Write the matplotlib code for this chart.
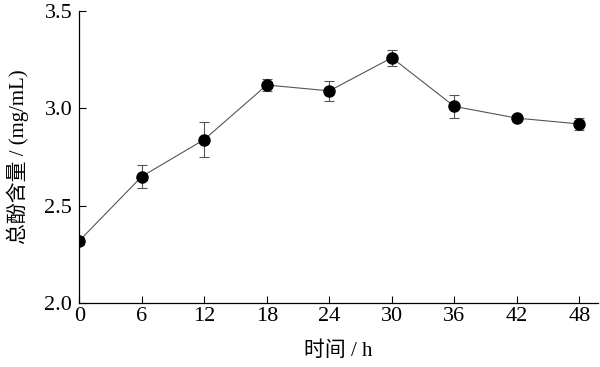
import matplotlib
matplotlib.use("Agg")
import matplotlib.pyplot as plt

# sampling time (h) and total phenol content (mg/mL)
hours = [0, 6, 12, 18, 24, 30, 36, 42, 48]
phenol = [2.32, 2.65, 2.84, 3.12, 3.09, 3.26, 3.01, 2.95, 2.92]
phenol_err = [0.02, 0.06, 0.09, 0.03, 0.05, 0.04, 0.06, 0.01, 0.03]

fonts = ['Liberation Serif', 'Noto Sans CJK SC']
plt.rcParams['font.family'] = fonts

fig = plt.figure(figsize=(6, 3.67), dpi=100)
ax = fig.add_axes([0.132, 0.174, 0.865, 0.796])

ax.errorbar(hours, phenol, yerr=phenol_err, color='#555555', linewidth=0.8,
            marker='o', markersize=8, markerfacecolor='black', markeredgecolor='black',
            ecolor='#555555', elinewidth=0.8, capsize=3.5, capthick=0.8)

ax.set_xlim(0, 49.8)
ax.set_ylim(2.0, 3.5)
ax.set_xticks(hours)
ax.set_yticks([2.0, 2.5, 3.0, 3.5])
ax.set_yticklabels(['2.0', '2.5', '3.0', '3.5'])
ax.tick_params(direction='in', length=5, width=0.8, labelsize=16)
ax.tick_params(axis='x', pad=3)
ax.tick_params(axis='y', pad=5)
ax.spines['top'].set_visible(False)
ax.spines['right'].set_visible(False)
for s in ['left', 'bottom']:
    ax.spines[s].set_linewidth(0.9)

ax.set_xlabel('时间 / h', fontsize=15, labelpad=11)
ax.set_ylabel('总酚含量 / (mg/mL)', fontsize=15, labelpad=11)

fig.savefig('out.png', dpi=100)
